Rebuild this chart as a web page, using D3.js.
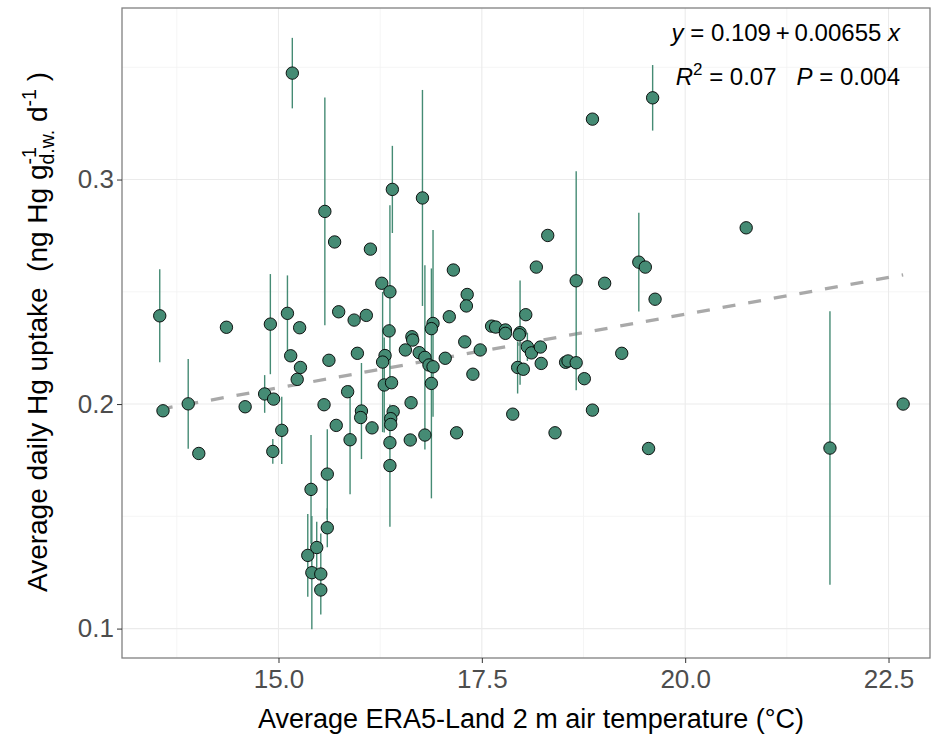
<!DOCTYPE html>
<html>
<head>
<meta charset="utf-8">
<script src="https://cdn.jsdelivr.net/npm/d3@7"></script>
<style>
body { margin: 0; background: #fff; }
svg { font-family: "Liberation Sans", Arial, sans-serif; }
.grid-major { stroke: #ebebeb; stroke-width: 1.1px; }
.grid-minor { stroke: #f3f3f3; stroke-width: 0.8px; }
.axis text { fill: #4d4d4d; font-size: 26px; }
.axis line { stroke: #333; stroke-width: 1px; }
.fit { fill: none; stroke: #a9a9a9; stroke-width: 3.3px; stroke-dasharray: 13 13; }
.bar { stroke: #458b74; stroke-width: 1.4px; }
.dot { fill: #458b74; stroke: #000; stroke-width: 0.9px; }
</style>
</head>
<body>
<svg id="chart" width="933" height="737"></svg>
<script>

// average ERA5-Land 2 m air temperature (°C)
var temp = [
  13.54, 13.58, 13.89, 14.02, 14.36, 14.59, 14.83, 14.94, 14.90, 14.93,
  15.04, 15.11, 15.15, 15.26, 15.27, 15.23, 15.17, 15.57, 15.69, 16.13,
  16.27, 16.37, 15.74, 15.93, 16.08, 15.97, 15.62, 16.02, 16.01, 15.56,
  15.71, 15.85, 15.88, 16.15, 15.40, 15.41, 15.36, 15.47, 15.52, 15.52,
  15.60, 15.60, 16.40, 16.77, 17.15, 17.32, 17.31, 17.10, 16.90, 16.88,
  16.36, 16.64, 16.65, 16.31, 16.28, 16.56, 16.73, 16.80, 16.85, 16.90,
  17.05, 17.29, 17.48, 17.39, 16.30, 16.39, 16.88, 16.63, 16.41, 16.38,
  16.38, 16.37, 16.37, 16.62, 16.80, 17.19, 17.62, 17.67, 17.79, 17.79,
  18.04, 17.97, 17.96, 18.06, 18.11, 18.22, 18.23, 17.94, 18.01, 17.88,
  18.40, 18.17, 18.31, 18.66, 19.01, 19.43, 19.51, 19.63, 18.53, 18.56,
  18.66, 18.76, 18.86, 18.86, 19.60, 19.22, 19.55, 20.75, 21.78, 22.68
];

// average daily Hg uptake (ng Hg g-1 d.w. d-1)
var uptake = [
  0.2393, 0.1970, 0.2001, 0.1780, 0.2342, 0.1988, 0.2045, 0.2022, 0.2356, 0.1789,
  0.1883, 0.2404, 0.2215, 0.2340, 0.2163, 0.2110, 0.3474, 0.2858, 0.2722, 0.2690,
  0.2538, 0.2500, 0.2411, 0.2374, 0.2395, 0.2226, 0.2195, 0.1969, 0.1940, 0.1997,
  0.1905, 0.2055, 0.1841, 0.1894, 0.1620, 0.1249, 0.1326, 0.1361, 0.1243, 0.1172,
  0.1688, 0.1449, 0.2956, 0.2918, 0.2597, 0.2488, 0.2437, 0.2389, 0.2359, 0.2336,
  0.2326, 0.2300, 0.2285, 0.2216, 0.2187, 0.2241, 0.2229, 0.2208, 0.2174, 0.2166,
  0.2204, 0.2277, 0.2241, 0.2133, 0.2085, 0.2095, 0.2092, 0.2006, 0.1966, 0.1935,
  0.1909, 0.1828, 0.1726, 0.1840, 0.1862, 0.1872, 0.2347, 0.2343, 0.2330, 0.2315,
  0.2398, 0.2318, 0.2309, 0.2255, 0.2228, 0.2254, 0.2181, 0.2163, 0.2155, 0.1955,
  0.1872, 0.2610, 0.2751, 0.2549, 0.2538, 0.2632, 0.2610, 0.2467, 0.2186, 0.2192,
  0.2184, 0.2113, 0.1973, 0.3269, 0.3364, 0.2226, 0.1802, 0.2785, 0.1804, 0.2000
];

// standard error of the uptake (0 = no bar drawn)
var uptakeSe = [
  0.0207, 0, 0.0200, 0, 0, 0, 0.0084, 0, 0.0223, 0.0055,
  0.0150, 0.0169, 0, 0, 0, 0, 0.0157, 0.0507, 0, 0,
  0, 0.0385, 0, 0, 0, 0, 0, 0.0214, 0, 0,
  0, 0, 0.0243, 0, 0.0242, 0.0252, 0.0184, 0.0115, 0.0180, 0,
  0.0200, 0.0087, 0.0194, 0.0481, 0, 0, 0, 0, 0.0416, 0,
  0, 0, 0, 0, 0.0312, 0, 0, 0.0410, 0, 0,
  0, 0, 0, 0, 0.0212, 0, 0.0512, 0, 0, 0,
  0, 0, 0.0272, 0, 0, 0, 0, 0, 0, 0,
  0, 0.0232, 0, 0.0063, 0, 0, 0, 0.0116, 0, 0,
  0, 0, 0, 0.0488, 0, 0.0220, 0, 0, 0, 0,
  0, 0, 0, 0, 0.0146, 0, 0, 0, 0.0609, 0
];

// fitted linear model
var intercept = 0.109,
    slope = 0.00655;

var xTicks = [15, 17.5, 20, 22.5],
    xMinor = [13.75, 16.25, 18.75, 21.25],
    yTicks = [0.1, 0.2, 0.3],
    yMinor = [0.15, 0.25, 0.35];

var svg = d3.select("#chart"),
    pLeft = 122, pRight = 930, pTop = 8, pBottom = 658;

var x = d3.scaleLinear().domain([13.076, 23.01]).range([pLeft, pRight]);
var y = d3.scaleLinear().domain([0.0869, 0.3764]).range([pBottom, pTop]);

var data = temp.map(function(t, i) {
    return {t: t, u: uptake[i], se: uptakeSe[i]};
});

// grid
svg.selectAll(".gx-minor").data(xMinor).enter().append("line")
    .attr("class", "grid-minor")
    .attr("x1", x).attr("x2", x).attr("y1", pTop).attr("y2", pBottom);
svg.selectAll(".gy-minor").data(yMinor).enter().append("line")
    .attr("class", "grid-minor")
    .attr("x1", pLeft).attr("x2", pRight).attr("y1", y).attr("y2", y);
svg.selectAll(".gx-major").data(xTicks).enter().append("line")
    .attr("class", "grid-major")
    .attr("x1", x).attr("x2", x).attr("y1", pTop).attr("y2", pBottom);
svg.selectAll(".gy-major").data(yTicks).enter().append("line")
    .attr("class", "grid-major")
    .attr("x1", pLeft).attr("x2", pRight).attr("y1", y).attr("y2", y);

// regression line over the data range
var ext = d3.extent(temp);
svg.append("path")
    .datum(ext)
    .attr("class", "fit")
    .attr("d", d3.line()
        .x(function(d) { return x(d); })
        .y(function(d) { return y(intercept + slope * d); }));

// error bars
svg.selectAll(".bar")
    .data(data.filter(function(d) { return d.se > 0; }))
    .enter().append("line")
    .attr("class", "bar")
    .attr("x1", function(d) { return x(d.t); })
    .attr("x2", function(d) { return x(d.t); })
    .attr("y1", function(d) { return y(d.u - d.se); })
    .attr("y2", function(d) { return y(d.u + d.se); });

// points
svg.selectAll(".dot")
    .data(data)
    .enter().append("circle")
    .attr("class", "dot")
    .attr("cx", function(d) { return x(d.t); })
    .attr("cy", function(d) { return y(d.u); })
    .attr("r", 6.2);

// panel border
svg.append("rect")
    .attr("x", pLeft).attr("y", pTop)
    .attr("width", pRight - pLeft).attr("height", pBottom - pTop)
    .attr("fill", "none")
    .attr("stroke", "#808080")
    .attr("stroke-width", 1.3);

// axes
var xAxis = svg.append("g")
    .attr("class", "axis")
    .attr("transform", "translate(0," + pBottom + ")")
    .call(d3.axisBottom(x).tickValues(xTicks).tickFormat(d3.format(".1f")).tickSize(5).tickPadding(7));
xAxis.select(".domain").remove();

var yAxis = svg.append("g")
    .attr("class", "axis")
    .attr("transform", "translate(" + pLeft + ",0)")
    .call(d3.axisLeft(y).tickValues(yTicks).tickFormat(d3.format(".1f")).tickSize(5).tickPadding(3));
yAxis.select(".domain").remove();

// axis titles
svg.append("text")
    .attr("x", 531)
    .attr("y", 728)
    .attr("text-anchor", "middle")
    .style("font-size", "27px")
    .text("Average ERA5-Land 2 m air temperature (\u00b0C)");

var yt = svg.append("text")
    .attr("transform", "translate(47,332) rotate(-90)")
    .attr("text-anchor", "middle")
    .style("font-size", "28px");
yt.append("tspan").text("Average daily Hg uptake\u00a0\u00a0(ng Hg g");
var sup1 = yt.append("tspan").attr("dy", -11).style("font-size", "19.5px").text("-1");
var w = sup1.node().getComputedTextLength();
yt.append("tspan").attr("dx", -w).attr("dy", 18).style("font-size", "19.5px").text("d.w.");
yt.append("tspan").attr("dy", -7).text("\u00a0d");
yt.append("tspan").attr("dy", -11).style("font-size", "19.5px").text("-1");
yt.append("tspan").attr("dy", 11).text("\u00a0)");

// fit annotation
var eq = svg.append("text")
    .attr("x", 900).attr("y", 41)
    .attr("text-anchor", "end")
    .style("font-size", "24px");
eq.append("tspan").style("font-style", "italic").text("y");
eq.append("tspan").text(" = " + intercept + "\u2009+\u2009" + slope + " ");
eq.append("tspan").style("font-style", "italic").text("x");

var r2 = svg.append("text")
    .attr("x", 900).attr("y", 85)
    .attr("text-anchor", "end")
    .style("font-size", "24px");
r2.append("tspan").style("font-style", "italic").text("R");
r2.append("tspan").attr("dy", -10).style("font-size", "17px").text("2");
r2.append("tspan").attr("dy", 10).text(" = 0.07\u00a0\u00a0\u00a0");
r2.append("tspan").style("font-style", "italic").text("P");
r2.append("tspan").text(" = 0.004");

</script>
</body>
</html>
